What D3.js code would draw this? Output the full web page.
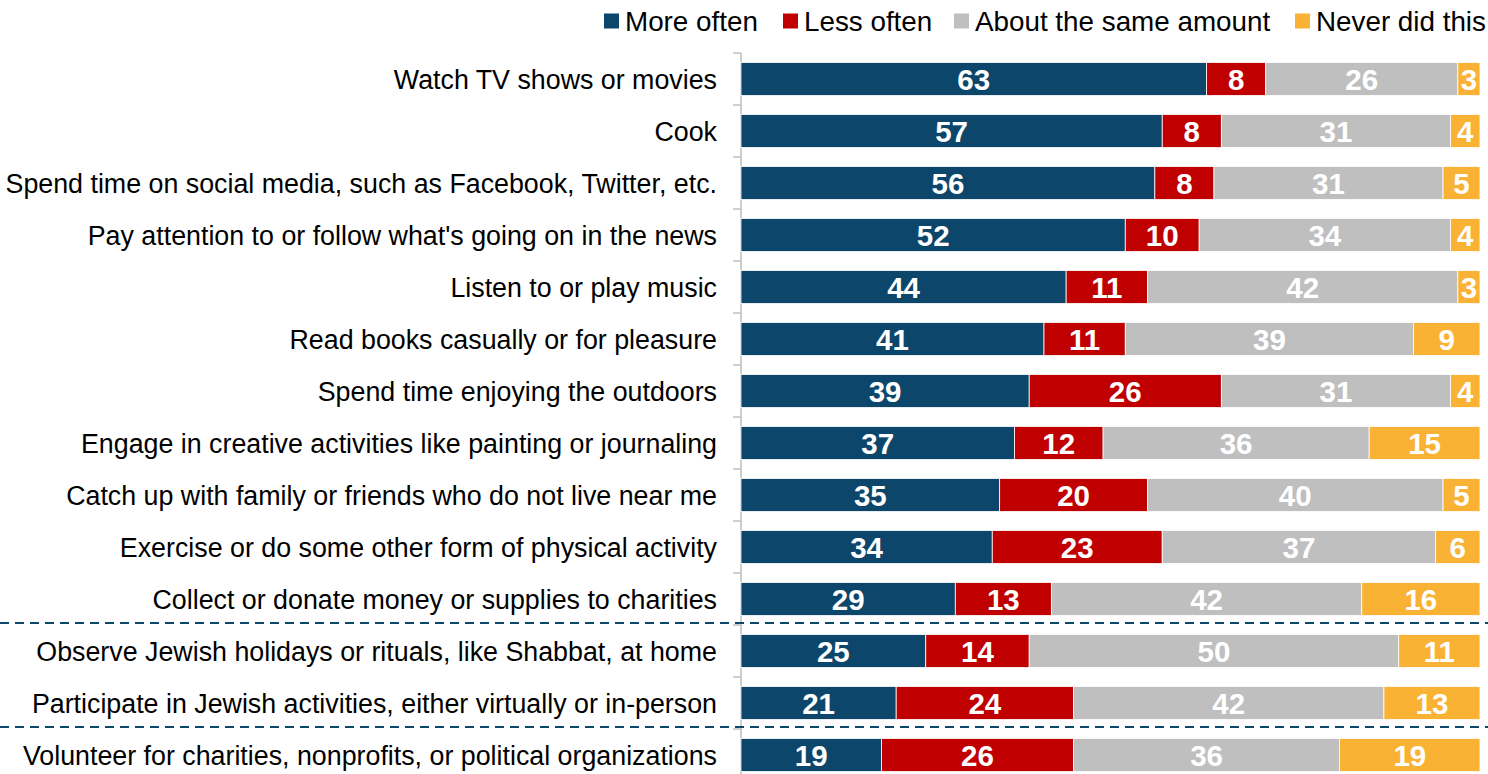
<!DOCTYPE html>
<html>
<head>
<meta charset="utf-8">
<script src="https://cdn.jsdelivr.net/npm/d3@7"></script>
<style>
  body { margin: 0; background: #fff; }
  svg { display: block; font-family: "Liberation Sans", Arial, sans-serif; }
</style>
</head>
<body>
<div id="chart"></div>
<script>
// categories, top to bottom
const activities = [
  "Watch TV shows or movies",
  "Cook",
  "Spend time on social media, such as Facebook, Twitter, etc.",
  "Pay attention to or follow what's going on in the news",
  "Listen to or play music",
  "Read books casually or for pleasure",
  "Spend time enjoying the outdoors",
  "Engage in creative activities like painting or journaling",
  "Catch up with family or friends who do not live near me",
  "Exercise or do some other form of physical activity",
  "Collect or donate money or supplies to charities",
  "Observe Jewish holidays or rituals, like Shabbat, at home",
  "Participate in Jewish activities, either virtually or in-person",
  "Volunteer for charities, nonprofits, or political organizations"
];
const seriesNames = ["More often", "Less often", "About the same amount", "Never did this"];
const moreOften  = [63, 57, 56, 52, 44, 41, 39, 37, 35, 34, 29, 25, 21, 19];
const lessOften  = [8, 8, 8, 10, 11, 11, 26, 12, 20, 23, 13, 14, 24, 26];
const sameAmount = [26, 31, 31, 34, 42, 39, 31, 36, 40, 37, 42, 50, 42, 36];
const neverDid   = [3, 4, 5, 4, 3, 9, 4, 15, 5, 6, 16, 11, 13, 19];
// group separators drawn above these rows
const dividersBefore = [11, 13];

(function() {
  const width = 1488, height = 774;
  const colors = ["#0c466b", "#c00000", "#bfbfbf", "#f9b234"];

  const table = activities.map((a, i) => ({
    activity: a,
    "More often": moreOften[i],
    "Less often": lessOften[i],
    "About the same amount": sameAmount[i],
    "Never did this": neverDid[i]
  }));
  const stacked = d3.stack().keys(seriesNames)(table);

  const svg = d3.select("#chart").append("svg")
    .attr("width", width)
    .attr("height", height);

  const x = d3.scaleLinear().domain([0, 100]).range([741, 1480]);
  const y = d3.scaleBand()
    .domain(activities)
    .range([53, 781])
    .paddingInner(0.365)
    .paddingOuter(0.1825);
  const color = d3.scaleOrdinal().domain(seriesNames).range(colors);

  // boundary between rows
  const gapHalf = y.step() * 0.365 / 2;
  const boundary = a => y(a) - gapHalf;

  // axis line + ticks between categories
  svg.append("line")
    .attr("x1", x(0)).attr("x2", x(0))
    .attr("y1", boundary(activities[0])).attr("y2", height)
    .attr("stroke", "#bfbfbf").attr("stroke-width", 1.5);
  svg.selectAll("line.tick")
    .data(activities)
    .enter().append("line")
    .attr("class", "tick")
    .attr("x1", x(0) - 8).attr("x2", x(0))
    .attr("y1", d => boundary(d)).attr("y2", d => boundary(d))
    .attr("stroke", "#bfbfbf").attr("stroke-width", 1.5);

  // bars
  const layers = svg.selectAll("g.layer")
    .data(stacked)
    .enter().append("g")
    .attr("class", "layer")
    .attr("fill", d => color(d.key));

  layers.selectAll("rect")
    .data(d => d)
    .enter().append("rect")
    .attr("x", d => x(d[0]))
    .attr("y", d => y(d.data.activity))
    .attr("width", d => x(d[1]) - x(d[0]))
    .attr("height", y.bandwidth())
    .attr("stroke", "#fff")
    .attr("stroke-width", 0.8);

  // value labels
  layers.selectAll("text")
    .data(d => d)
    .enter().append("text")
    .attr("x", d => (x(d[0]) + x(d[1])) / 2)
    .attr("y", d => y(d.data.activity) + y.bandwidth() / 2)
    .attr("dy", "0.36em")
    .attr("text-anchor", "middle")
    .attr("fill", "#fff")
    .attr("font-size", 29.5)
    .attr("font-weight", "bold")
    .text(d => d[1] - d[0]);

  // category labels
  svg.selectAll("text.cat")
    .data(activities)
    .enter().append("text")
    .attr("class", "cat")
    .attr("x", 717)
    .attr("y", d => y(d) + y.bandwidth() / 2)
    .attr("dy", "0.36em")
    .attr("text-anchor", "end")
    .attr("font-size", 26.8)
    .attr("fill", "#000")
    .text(d => d);

  // dashed group separators
  svg.selectAll("line.divider")
    .data(dividersBefore)
    .enter().append("line")
    .attr("class", "divider")
    .attr("x1", 0).attr("x2", width)
    .attr("y1", i => boundary(activities[i]) - 2)
    .attr("y2", i => boundary(activities[i]) - 2)
    .attr("stroke", "#0c466b")
    .attr("stroke-width", 2)
    .attr("stroke-dasharray", "9,6");

  // legend
  const legendX = [604, 783, 954, 1295];
  const legend = svg.selectAll("g.legend")
    .data(seriesNames)
    .enter().append("g")
    .attr("class", "legend")
    .attr("transform", (d, i) => `translate(${legendX[i]},21)`);
  legend.append("rect")
    .attr("x", 0).attr("y", -7.5)
    .attr("width", 15).attr("height", 15)
    .attr("fill", d => color(d));
  legend.append("text")
    .attr("x", 21)
    .attr("dy", "0.36em")
    .attr("font-size", 27.8)
    .attr("fill", "#000")
    .text(d => d);
})();
</script>
</body>
</html>
